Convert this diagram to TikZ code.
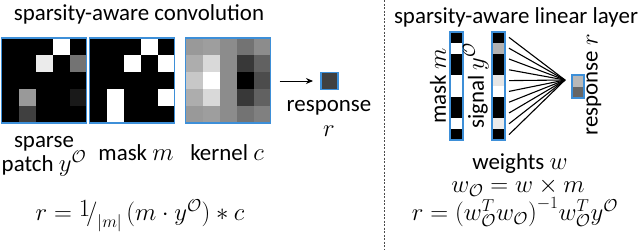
\documentclass[tikz,border=0pt]{standalone}
\usepackage{fontspec}
\setmainfont{Carlito}
\usetikzlibrary{calc,arrows.meta}
\definecolor{bbl}{HTML}{3D8FD8}
\definecolor{resp}{HTML}{404040}
\newcommand{\mbig}[1]{{\fontsize{26}{28}\selectfont$#1$}}
\begin{document}
\begin{tikzpicture}[x=1bp,y=-1bp, font=\fontsize{23}{27}\selectfont,
  frame/.style={draw=bbl, line width=1.4bp, inner sep=0pt, outer sep=0pt},
  lbl/.style={inner sep=0pt, align=center},
  mth/.style={inner sep=0pt, font=\fontsize{27}{30}\selectfont},
  wline/.style={line width=1.1bp, black},
  sep/.style={draw=black!70, line width=0.8bp, dash pattern=on 2bp off 1.5bp}]
\useasboundingbox (0,0) rectangle (640,250);
% titles
\node[lbl] (t1) at (139,14) {sparsity-aware convolution};
\node[lbl] (t2) at (516,17) {sparsity-aware linear layer};
% separator
\coordinate (s1) at (384,0);
\coordinate (s2) at (384,250);
\draw[sep] (s1) -- (s2);
% ---------- patch 1 (sparse patch)
\fill[black] (1.5,38) rectangle ++(85,85);
\foreach \r/\c/\w in {0/3/100,1/2/92,1/4/45,3/1/60,3/4/10,4/1/25}
  \fill[white!\w!black] (1.5+17*\c,38+17*\r) rectangle ++(17,17);
\node[frame, minimum width=85bp, minimum height=85bp] (p1) at (44,80.5) {};
% ---------- patch 2 (mask)
\fill[black] (89.5,38) rectangle ++(85,85);
\foreach \r/\c in {0/3,1/2,1/4,3/1,3/4,4/1}
  \fill[white] (89.5+17*\c,38+17*\r) rectangle ++(17,17);
\node[frame, minimum width=85bp, minimum height=85bp] (p2) at (132,80.5) {};
% ---------- patch 3 (kernel)
\foreach \row [count=\r from 0] in {{60,62,55,45,55},{68,85,55,22,38},{78,100,55,0,30},{68,85,55,22,38},{60,62,55,45,50}}
  \foreach \w [count=\c from 0] in \row
    \fill[white!\w!black] (185.5+17*\c,38+17*\r) rectangle ++(17,17);
\node[frame, minimum width=85bp, minimum height=85bp] (p3) at (228,80.5) {};
% response square
\node[frame, fill=resp, minimum size=17bp] (rs) at (329.5,81) {};
\draw[-{Stealth[length=7bp,width=6bp]}, line width=1bp, shorten >=8bp, shorten <=9bp] (p3.east |- rs.west) -- (rs.west);
% labels left
\node[lbl] (lsp) at (44,156) {sparse\\[-3bp]patch \mbig{y^{\mathcal{O}}}};
\node[lbl] (lmk) at (136,153) {mask \mbig{m}};
\node[lbl] (lkc) at (227,153) {kernel \mbig{c}};
\node[lbl] (lrs) at (329,108) {response};
\node[lbl] (lr) at (329,131) {\mbig{r}};
\node[mth] (f1) at (140,216) {$r = \raisebox{4bp}{$1$}\!\big/_{|m|}\,(m\cdot y^{\mathcal{O}}) * c$};
% ---------- right panel
\node[frame, minimum width=13bp, minimum height=108bp] (mb) at (456.5,86) {};
\node[frame, minimum width=13bp, minimum height=108bp] (sb) at (498.5,86) {};
\foreach \w [count=\i from 0] in {0,100,0,0,100,100,0,0,100,0}
  \fill[white!\w!black] ($(mb.north west)+(0,10.8*\i)$) rectangle ++(13,10.8);
\foreach \w [count=\i from 0] in {0,70,0,0,90,100,0,0,92,0}
  \fill[white!\w!black] ($(sb.north west)+(0,10.8*\i)$) rectangle ++(13,10.8);
\node[frame, minimum width=13bp, minimum height=108bp] at (mb) {};
\node[frame, minimum width=13bp, minimum height=108bp] at (sb) {};
\node[frame, minimum width=12bp, minimum height=23bp] (rb) at (578,86.5) {};
\fill[white!72!black] (rb.north west) rectangle (rb.east);
\fill[white!40!black] (rb.west) rectangle (rb.south east);
\node[frame, minimum width=12bp, minimum height=23bp] at (rb) {};
\coordinate (conv) at (565,80);
\foreach \i in {0,...,9}
  \draw[wline] ($(sb.north east)+(4,10.8*\i+5.4)$) -- (conv);
\node[lbl, rotate=90] (lm) at (438,86) {mask \mbig{m}};
\node[lbl, rotate=90] (ls) at (476,86) {signal \mbig{y^{\mathcal{O}}}};
\node[lbl, rotate=90] (lres) at (594,85) {response \mbig{r}};
\node[lbl] (lw) at (520,164) {weights \mbig{w}};
\node[mth] (f2) at (518,187) {$w_{\mathcal{O}} = w\times m$};
\node[mth] (f3) at (515,212) {$r=\biggl(w_{\mathcal{O}}^{T} w_{\mathcal{O}}\biggr)^{-1} w_{\mathcal{O}}^{T} y^{\mathcal{O}}$};
\end{tikzpicture}
\end{document}
